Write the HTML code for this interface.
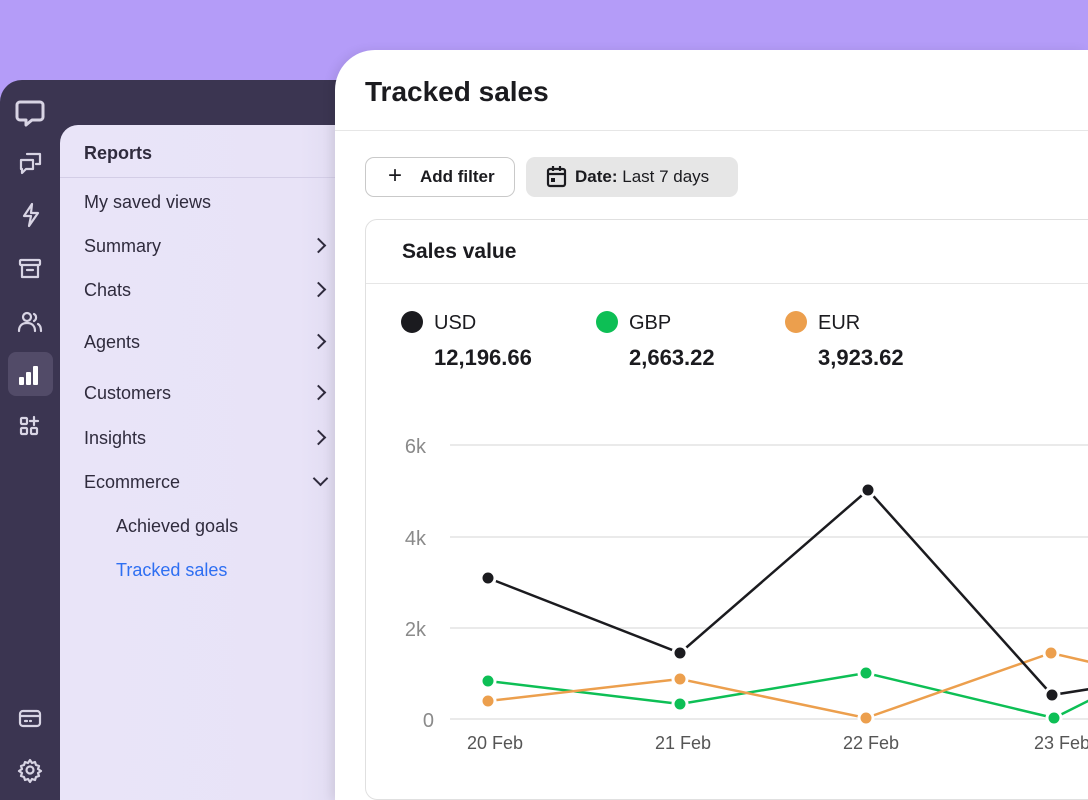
<!DOCTYPE html>
<html><head><meta charset="utf-8"><style>
*{margin:0;padding:0;box-sizing:border-box}
html{width:1088px;height:800px;overflow:hidden}
body{width:1088px;height:800px;overflow:hidden;background:#b49cf8;font-family:"Liberation Sans",sans-serif;position:relative}
.abs{position:absolute}
#side{left:0;top:80px;width:360px;height:720px;background:#3b3551;border-top-left-radius:22px}
#panel{left:60px;top:125px;width:300px;height:675px;background:linear-gradient(90deg,#e9e4f8 0%,#e8e3f7 80%,#ddd7ee 100%);border-top-left-radius:18px}
.mi{position:absolute;left:84px;font-size:18px;color:#2f2b3d;line-height:20px}
.chev{position:absolute;left:313px;width:11px;height:11px;border-right:2px solid #2f2b3d;border-top:2px solid #2f2b3d;transform:rotate(45deg)}
#main{left:335px;top:50px;width:753px;height:750px;background:#fff;border-top-left-radius:40px;box-shadow:-4px 0 10px rgba(0,0,0,.08)}
</style></head><body>
<div id="side" class="abs"></div>
<svg class="abs" style="left:0;top:80px" width="60" height="720" fill="none" stroke="#d8d4e4" stroke-width="2.2" stroke-linecap="round" stroke-linejoin="round">
<path d="M20 22 h20 a3 3 0 0 1 3 3 v12 a3 3 0 0 1 -3 3 h-8 l-6 5 v-5 h-6 a3 3 0 0 1 -3 -3 v-12 a3 3 0 0 1 3 -3z" stroke-width="3"/>
<path d="M27 74 h13 v10 h-4 M21 80 h12 v9 h-7 l-4 4 v-4 h-1z"/>
<path d="M32 124 l-8 12 h7 l-2 10 l9 -13 h-7 z"/>
<rect x="20" y="180" width="20" height="5" rx="1"/><path d="M22 185 v12 h16 v-12 M27 190 h6"/>
<circle cx="27" cy="237" r="4"/><path d="M19 251 c0-6 4-8 8-8 s8 2 8 8 M34 234 a4 4 0 0 1 0 7 M38 244 c2 1 3 4 3 7"/>
<rect x="8" y="272" width="45" height="44" rx="8" fill="#524b68" stroke="none"/>
<rect x="19" y="297" width="5" height="8" fill="#fff" stroke="none" rx="1"/><rect x="26" y="292" width="5" height="13" fill="#fff" stroke="none" rx="1"/><rect x="33" y="286" width="5" height="19" fill="#fff" stroke="none" rx="1"/>
<rect x="21" y="338" width="6" height="6" rx="1"/><rect x="21" y="348" width="6" height="6" rx="1"/><rect x="31" y="348" width="6" height="6" rx="1"/><path d="M34 337 v8 M30 341 h8"/>
<rect x="20" y="631" width="20" height="15" rx="3"/><path d="M20 636 h20 M25 641 h2 M30 641 h1"/>
<circle cx="30" cy="690" r="3.5"/><path d="M30 680 l2 3 3-1 1 3 3 1-1 3 3 2-3 2 1 3-3 1-1 3-3-1-2 3-2-3-3 1-1-3-3-1 1-3-3-2 3-2-1-3 3-1 1-3 3 1z"/>
</svg>
<div id="panel" class="abs"></div>
<div class="mi" style="top:143px;font-weight:bold">Reports</div>
<div class="abs" style="left:60px;top:177px;width:280px;height:1px;background:#d3cde6"></div>
<div class="mi" style="top:192px">My saved views</div>
<div class="mi" style="top:236px">Summary</div><div class="chev" style="top:240px"></div>
<div class="mi" style="top:280px">Chats</div><div class="chev" style="top:284px"></div>
<div class="mi" style="top:332px">Agents</div><div class="chev" style="top:336px"></div>
<div class="mi" style="top:383px">Customers</div><div class="chev" style="top:387px"></div>
<div class="mi" style="top:428px">Insights</div><div class="chev" style="top:432px"></div>
<div class="mi" style="top:472px">Ecommerce</div><div class="chev" style="top:473px;left:315px;transform:rotate(135deg)"></div>
<div class="mi" style="top:516px;left:116px">Achieved goals</div>
<div class="mi" style="top:560px;left:116px;color:#2e6ff2">Tracked sales</div>

<div id="main" class="abs"></div>
<div class="abs" style="left:365px;top:76px;font-size:28px;font-weight:bold;color:#1b1b1f">Tracked sales</div>
<div class="abs" style="left:335px;top:130px;width:753px;height:1px;background:#e6e6e6"></div>
<div class="abs" style="left:365px;top:157px;width:150px;height:40px;border:1px solid #c9c9c9;border-radius:9px;font-size:17px;font-weight:bold;color:#1b1b1f;line-height:38px;padding-left:54px">Add filter</div>
<div class="abs" style="left:388px;top:166px;font-size:24px;color:#1b1b1f;line-height:20px">+</div>
<div class="abs" style="left:526px;top:157px;width:212px;height:40px;background:#e6e6e6;border-radius:9px;font-size:17px;color:#1b1b1f;line-height:40px;padding-left:49px"><b>Date:</b> Last 7 days</div>
<svg class="abs" style="left:546px;top:165px" width="22" height="24" fill="none" stroke="#1b1b1f" stroke-width="2.2"><rect x="2" y="4" width="17" height="17" rx="2"/><path d="M2 9 h17 M7 1 v5 M14 1 v5"/><rect x="5" y="13" width="4" height="4" fill="#1b1b1f" stroke="none"/></svg>

<div class="abs" style="left:365px;top:219px;width:740px;height:581px;border:1px solid #e0e0e0;border-radius:12px"></div>
<div class="abs" style="left:366px;top:283px;width:722px;height:1px;background:#e6e6e6"></div>
<div class="abs" style="left:402px;top:240px;font-size:21px;font-weight:bold;color:#1b1b1f">Sales value</div>

<svg class="abs" style="left:0;top:0" width="1088" height="800" font-family="Liberation Sans, sans-serif">
<circle cx="412" cy="322" r="11" fill="#1b1b1f"/><circle cx="607" cy="322" r="11" fill="#0dbf55"/><circle cx="796" cy="322" r="11" fill="#ec9f4d"/>
<g font-size="20" fill="#1b1b1f"><text x="434" y="329">USD</text><text x="629" y="329">GBP</text><text x="818" y="329">EUR</text></g>
<g font-size="22" font-weight="bold" fill="#1b1b1f"><text x="434" y="365">12,196.66</text><text x="629" y="365">2,663.22</text><text x="818" y="365">3,923.62</text></g>
<g stroke="#e4e4e4" stroke-width="1.5"><line x1="450" y1="445" x2="1088" y2="445"/><line x1="450" y1="537" x2="1088" y2="537"/><line x1="450" y1="628" x2="1088" y2="628"/><line x1="450" y1="719" x2="1088" y2="719"/></g>
<g font-size="20" fill="#8a8a8a" text-anchor="end"><text x="426" y="453">6k</text><text x="426" y="545">4k</text><text x="426" y="636">2k</text><text x="434" y="727">0</text></g>
<g font-size="18" fill="#555" text-anchor="middle"><text x="495" y="749">20 Feb</text><text x="683" y="749">21 Feb</text><text x="871" y="749">22 Feb</text><text x="1062" y="749">23 Feb</text></g>
<g fill="none" stroke-width="2.5">
<polyline stroke="#0dbf55" points="488,681 680,704 866,673 1054,718 1090,700"/>
<polyline stroke="#ec9f4d" points="488,701 680,679 866,718 1051,653 1090,662"/>
<polyline stroke="#1b1b1f" points="488,578 680,653 868,490 1052,695 1090,689"/>
</g>
<g stroke="#fff" stroke-width="3">
<g fill="#0dbf55"><circle cx="488" cy="681" r="7"/><circle cx="680" cy="704" r="7"/><circle cx="866" cy="673" r="7"/><circle cx="1054" cy="718" r="7"/></g>
<g fill="#ec9f4d"><circle cx="488" cy="701" r="7"/><circle cx="680" cy="679" r="7"/><circle cx="866" cy="718" r="7"/><circle cx="1051" cy="653" r="7"/></g>
<g fill="#1b1b1f"><circle cx="488" cy="578" r="7"/><circle cx="680" cy="653" r="7"/><circle cx="868" cy="490" r="7"/><circle cx="1052" cy="695" r="7"/></g>
</g>
</svg>
</body></html>
